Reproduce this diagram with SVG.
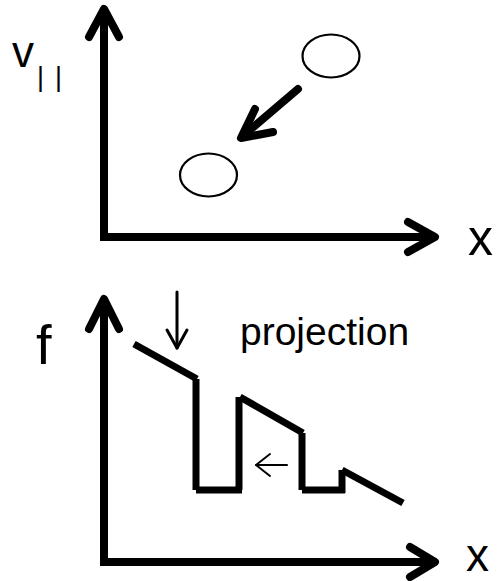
<svg xmlns="http://www.w3.org/2000/svg" width="497" height="581" viewBox="0 0 497 581">
<style>
.axis{fill:none;stroke:#000;stroke-width:8;stroke-linejoin:miter}
.head{fill:none;stroke:#000;stroke-width:8;stroke-linecap:round;stroke-linejoin:round}
.curve{fill:none;stroke:#000;stroke-width:7;stroke-linecap:butt}
.thin{fill:none;stroke:#000;stroke-width:3;stroke-linecap:round;stroke-linejoin:round}
.thin2{fill:none;stroke:#000;stroke-width:2;stroke-linecap:round;stroke-linejoin:round}
.blob{fill:#fff;stroke:#000;stroke-width:2.2}
.lbl{font-family:"Liberation Sans","Open Sans",sans-serif;fill:#000}
</style>
<rect width="497" height="581" fill="#fff"/>
<g id="top-axes">
<path class="axis" d="M104,10 V237 H435"/>
<path class="head" d="M89,37 L104,9 L119,37"/>
<path class="head" d="M408,222 L435,237 L408,252"/>
</g>
<g id="label-vpar">
<text class="lbl" x="12" y="67" font-size="44">v</text>
<text class="lbl" x="37" y="86" font-size="27" letter-spacing="11">||</text>
</g>
<g id="label-x-top"><text class="lbl" x="468" y="255" font-size="50">x</text></g>
<g id="blob-start"><ellipse class="blob" cx="331" cy="56" rx="28.5" ry="21.5"/></g>
<g id="blob-end"><ellipse class="blob" cx="208.5" cy="175" rx="28.5" ry="21.5"/></g>
<g id="connectors">
<path class="head" d="M298,89 L244,135"/>
<path class="head" d="M255,109 L241,138 L273,132"/>
<path class="thin" d="M177,292 V348"/>
<path class="thin" d="M167,330 L177,348 L187,330"/>
<path class="thin2" d="M287,465 H256"/>
<path class="thin2" d="M270,454 L256,465 L270,476"/>
</g>
<g id="bottom-axes">
<path class="axis" d="M104,300 V562 H435"/>
<path class="head" d="M89,329 L104,299 L119,329"/>
<path class="head" d="M410,547 L435,562 L410,577"/>
</g>
<g id="label-f"><text class="lbl" x="36" y="364" font-size="56">f</text></g>
<g id="label-x-bottom"><text class="lbl" x="466" y="571" font-size="46">x</text></g>
<g id="label-projection"><text class="lbl" x="240" y="345" font-size="39">projection</text></g>
<g id="distribution">
<line class="curve" x1="134" y1="344" x2="197" y2="379"/>
<line class="curve" x1="196" y1="379" x2="196" y2="490"/>
<line class="curve" x1="196" y1="490" x2="242" y2="490"/>
<line class="curve" x1="239" y1="490" x2="239" y2="397"/>
<line class="curve" x1="240" y1="397" x2="303" y2="433"/>
<line class="curve" x1="302" y1="433" x2="302" y2="490"/>
<line class="curve" x1="302" y1="490" x2="345" y2="490"/>
<line class="curve" x1="342" y1="493" x2="342" y2="470"/>
<line class="curve" x1="342" y1="470" x2="403" y2="503"/>
</g>
</svg>
